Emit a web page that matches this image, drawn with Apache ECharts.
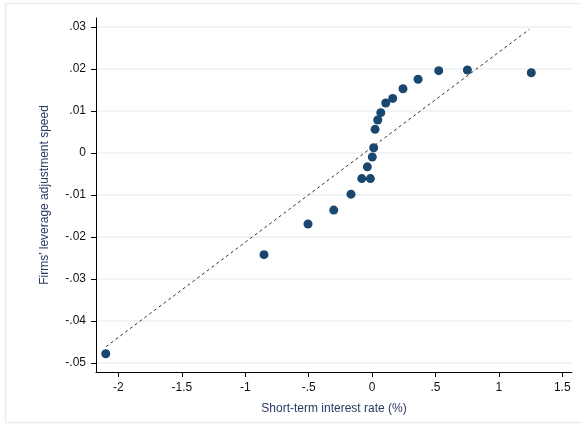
<!DOCTYPE html>
<html>
<head>
<meta charset="utf-8">
<script src="https://cdn.jsdelivr.net/npm/echarts@6/dist/echarts.min.js"></script>
<style>
  html, body { margin: 0; padding: 0; background: #fff; }
  #chart { width: 581px; height: 427px; }
</style>
</head>
<body>
<div id="chart"></div>
<script>
// binned points: short-term rate (%) vs leverage adjustment speed
const rateX = [-2.100, -0.852, -0.505, -0.302, -0.166, -0.081, -0.013, -0.037, 0.002, 0.013,
  0.024, 0.045, 0.069, 0.108, 0.163, 0.244, 0.363, 0.526, 0.752, 1.256];
const speedY = [-0.0478, -0.0242, -0.0169, -0.0136, -0.0098, -0.0061, -0.0061, -0.0033, -0.00095, 0.00126,
  0.00564, 0.00786, 0.0096, 0.0119, 0.0130, 0.0153, 0.01755, 0.0196, 0.01976, 0.0191];
// fitted line end points
const fitX = [-2.098, 1.241];
const fitY = [-0.0461, 0.02945];

const xTicks = [-2, -1.5, -1, -0.5, 0, 0.5, 1, 1.5];
const yTicks = [-0.05, -0.04, -0.03, -0.02, -0.01, 0, 0.01, 0.02, 0.03];

const font = 'Liberation Sans, Arial, sans-serif';

// Stata style: drop leading zero
function stataFmt(v, d) {
  if (Math.abs(v) < 1e-9) return '0';
  let s = d != null ? v.toFixed(d) : String(+v.toFixed(4));
  return s.replace(/^(-?)0\./, '$1.');
}

const chart = echarts.init(document.getElementById('chart'));
chart.setOption({
  animation: false,
  backgroundColor: '#fff',
  graphic: [{
    type: 'rect',
    shape: { x: 5.5, y: 3.5, width: 580, height: 419 },
    style: { fill: 'none', stroke: '#e6eef0', lineWidth: 1.5 },
    silent: true
  }],
  grid: { left: 96, right: 9, top: 18, bottom: 55 },
  xAxis: {
    type: 'value',
    min: -2.177,
    max: 1.577,
    name: 'Short-term interest rate (%)',
    nameLocation: 'middle',
    nameGap: 31,
    nameTextStyle: { fontFamily: font, fontSize: 12, color: '#2b3a63' },
    axisLine: { show: true, onZero: false, lineStyle: { color: '#000', width: 1 } },
    axisTick: { show: true, inside: false, length: 5, customValues: xTicks, lineStyle: { color: '#000' } },
    axisLabel: {
      customValues: xTicks,
      margin: 10,
      fontFamily: font, fontSize: 12, color: '#111',
      formatter: v => stataFmt(v)
    },
    splitLine: { show: false }
  },
  yAxis: {
    type: 'value',
    min: -0.05214,
    max: 0.03214,
    name: "Firms' leverage adjustment speed",
    nameLocation: 'middle',
    nameGap: 45,
    nameTextStyle: { fontFamily: font, fontSize: 12, color: '#2b3a63' },
    axisLine: { show: true, onZero: false, lineStyle: { color: '#000', width: 1 } },
    axisTick: { show: true, inside: false, length: 5, customValues: yTicks, lineStyle: { color: '#000' } },
    axisLabel: {
      customValues: yTicks,
      margin: 10,
      fontFamily: font, fontSize: 12, color: '#111',
      formatter: v => stataFmt(v, 2)
    },
    splitLine: { show: false }
  },
  series: [
    {
      // horizontal grid lines at the y ticks
      type: 'line',
      data: [],
      silent: true,
      z: 0,
      markLine: {
        silent: true,
        z: 0,
        symbol: 'none',
        label: { show: false },
        lineStyle: { color: '#eaf1f3', width: 1.5, type: 'solid' },
        data: yTicks.map(v => ({ yAxis: v }))
      }
    },
    {
      type: 'line',
      data: fitX.map((x, i) => [x, fitY[i]]),
      showSymbol: false,
      symbol: 'none',
      lineStyle: { color: '#333', width: 1, type: [3, 3] },
      z: 3
    },
    {
      type: 'scatter',
      data: rateX.map((x, i) => [x, speedY[i]]),
      symbol: 'circle',
      symbolSize: 9,
      itemStyle: { color: '#1a476f', opacity: 1 },
      z: 4
    }
  ]
});
</script>
</body>
</html>
